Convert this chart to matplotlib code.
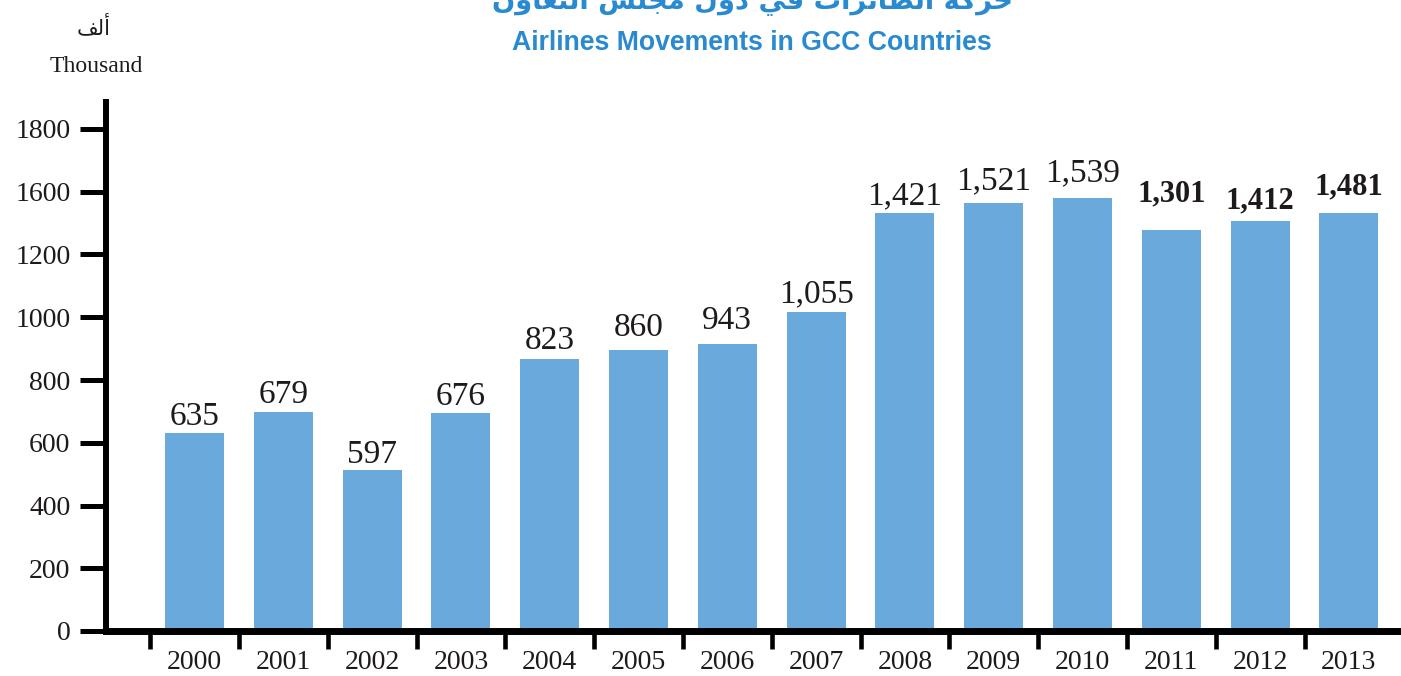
import matplotlib
matplotlib.use("Agg")
import matplotlib.pyplot as plt
import numpy as np

# ---------------- data ----------------
years = ["2000", "2001", "2002", "2003", "2004", "2005", "2006",
         "2007", "2008", "2009", "2010", "2011", "2012", "2013"]
# bar heights as drawn against the axis scale
bar_heights = [632, 698, 513, 695, 867, 896, 915, 1017, 1333, 1363, 1381, 1278, 1307, 1333]
# printed value labels (thousand movements)
label_values = [635, 679, 597, 676, 823, 860, 943, 1055, 1421, 1521, 1539, 1301, 1412, 1481]
ytick_values = [0, 200, 400, 600, 800, 1000, 1200, 1400, 1600]
ytick_labels = ["0", "200", "400", "600", "800", "1000", "1200", "1600", "1800"]

title_ar = "حركة الطائرات في دول مجلس التعاون"
title_en = "Airlines Movements in GCC Countries"
unit_ar = "ألف"
unit_en = "Thousand"

# ---------------- style ----------------
BAR_COLOR = "#6AA9DC"
BLUE = "#2A8AD0"
TEXT = "#1E1A1B"
label_gap_px = [8, 9, 7, 8, 10, 14, 15, 10, 8, 14, 16, 29, 13, 18]
bold_from = 11

# -------- minimal Arabic shaping (presentation forms) --------
FORMS = {  # isolated, final, initial, medial
    "ا": ("\uFE8D", "\uFE8E", None, None),
    "أ": ("\uFE83", "\uFE84", None, None),
    "ة": ("\uFE93", "\uFE94", None, None),
    "ت": ("\uFE95", "\uFE96", "\uFE97", "\uFE98"),
    "ج": ("\uFE9D", "\uFE9E", "\uFE9F", "\uFEA0"),
    "ح": ("\uFEA1", "\uFEA2", "\uFEA3", "\uFEA4"),
    "د": ("\uFEA9", "\uFEAA", None, None),
    "ر": ("\uFEAD", "\uFEAE", None, None),
    "س": ("\uFEB1", "\uFEB2", "\uFEB3", "\uFEB4"),
    "ط": ("\uFEC1", "\uFEC2", "\uFEC3", "\uFEC4"),
    "ع": ("\uFEC9", "\uFECA", "\uFECB", "\uFECC"),
    "ف": ("\uFED1", "\uFED2", "\uFED3", "\uFED4"),
    "ك": ("\uFED9", "\uFEDA", "\uFEDB", "\uFEDC"),
    "ل": ("\uFEDD", "\uFEDE", "\uFEDF", "\uFEE0"),
    "م": ("\uFEE1", "\uFEE2", "\uFEE3", "\uFEE4"),
    "ن": ("\uFEE5", "\uFEE6", "\uFEE7", "\uFEE8"),
    "و": ("\uFEED", "\uFEEE", None, None),
    "ي": ("\uFEF1", "\uFEF2", "\uFEF3", "\uFEF4"),
    "ئ": ("\uFE89", "\uFE8A", "\uFE8B", "\uFE8C"),
}


def shape(text):
    out = []
    chars = list(text)
    for i, c in enumerate(chars):
        if c not in FORMS:
            out.append(c)
            continue
        prev = chars[i - 1] if i > 0 else None
        nxt = chars[i + 1] if i + 1 < len(chars) else None
        jp = prev in FORMS and FORMS[prev][2] is not None
        jn = FORMS[c][2] is not None and nxt in FORMS
        iso, fin, ini, med = FORMS[c]
        if jp and jn:
            out.append(med)
        elif jp:
            out.append(fin)
        elif jn:
            out.append(ini)
        else:
            out.append(iso)
    return "".join(out)[::-1]


# ---------------- figure ----------------
W, H = 1401, 676
fig = plt.figure(figsize=(W / 100, H / 100), dpi=100)
ax_left, ax_right, ax_bottom, ax_top = 106, 1404, 631, 102
ax = fig.add_axes([ax_left / W, 1 - ax_bottom / H, (ax_right - ax_left) / W, (ax_bottom - ax_top) / H])

x = np.arange(len(years))
ax.bar(x, bar_heights, width=0.665, color=BAR_COLOR, zorder=1)

px_per_unit = 88.8
ax.set_xlim(-(194.5 - ax_left) / px_per_unit, (ax_right - 194.5) / px_per_unit)
ax.set_ylim(0, (ax_bottom - ax_top) / 62.75 * 200)

serif = ["Liberation Serif", "DejaVu Serif"]

for i, (v, lv) in enumerate(zip(bar_heights, label_values)):
    bold = i >= bold_from
    ax.annotate(f"{lv:,}", (x[i], v), xytext=(0, label_gap_px[i] * 0.72),
                textcoords="offset points", ha="center", va="baseline",
                fontsize=22 if bold else 24, fontweight="bold" if bold else "normal",
                family=serif, color=TEXT)

# spines
for s in ["top", "right"]:
    ax.spines[s].set_visible(False)
ax.spines["left"].set_linewidth(4.3)
ax.spines["bottom"].set_linewidth(5.0)
ax.spines["left"].set_capstyle("projecting")
ax.spines["bottom"].set_capstyle("projecting")
ax.spines["left"].set_color("black")
ax.spines["bottom"].set_color("black")

# y ticks
ax.set_yticks(ytick_values)
ax.set_yticklabels(ytick_labels, family=serif, fontsize=20, color=TEXT)
ax.tick_params(axis="y", direction="out", length=18.5, width=3.6, pad=7, color="black")

# x ticks: labels on major, marks on minor
ax.set_xticks(x)
ax.set_xticklabels(years, family=serif, fontsize=20, color=TEXT)
ax.tick_params(axis="x", which="major", length=0, pad=14)
ax.set_xticks(x - 0.5, minor=True)
ax.tick_params(axis="x", which="minor", direction="out", length=12.6, width=3.3, color="black")

# titles / unit
fig.text(752 / W, 1 - 8 / H, shape(title_ar), ha="center", va="baseline",
         fontsize=19.7, fontweight="bold", color=BLUE, family=["DejaVu Sans"])
fig.text(752 / W, 1 - 42.5 / H, title_en, ha="center", va="center",
         fontsize=19.2, fontweight="bold", color=BLUE, family=["Liberation Sans", "DejaVu Sans"])
fig.text(94 / W, 1 - 27 / H, shape(unit_ar), ha="center", va="center",
         fontsize=15, color=TEXT, family=["DejaVu Sans"])
fig.text(96.5 / W, 1 - 72 / H, unit_en, ha="center", va="baseline",
         fontsize=17, color=TEXT, family=serif)

fig.savefig("out.png", dpi=100)
